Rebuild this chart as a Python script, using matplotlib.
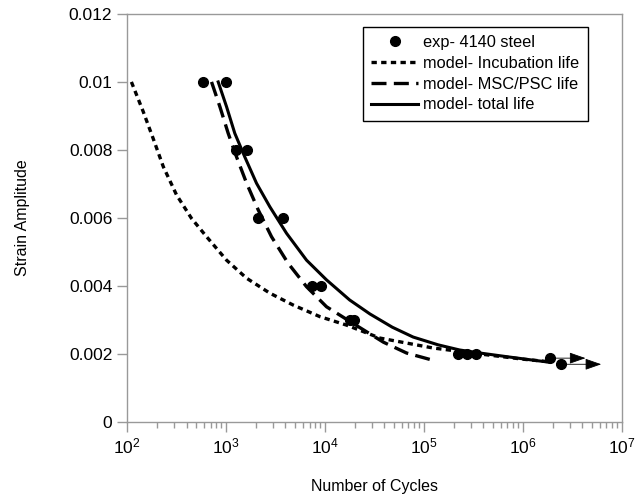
import matplotlib.pyplot as plt
import numpy as np

plt.rcParams['font.family'] = ['Liberation Sans', 'DejaVu Sans']

# experimental points
exp_N = [587, 1000, 1260, 1620, 2100, 3770, 7400, 9100, 17800, 19500,
         2.2e5, 2.7e5, 3.4e5, 1.9e6, 2.45e6]
exp_strain = [0.01, 0.01, 0.008, 0.008, 0.006, 0.006, 0.004, 0.004, 0.003, 0.003,
              0.002, 0.002, 0.002, 0.00188, 0.0017]

# run-outs (arrows)
runout_start = [1.9e6, 2.45e6]
runout_end = [4.3e6, 6.2e6]
runout_strain = [0.00188, 0.0017]

# model curves
inc_N = [111, 146, 184, 233, 317, 449, 638, 1016, 1618, 2782, 4790, 8910,
         16600, 36000, 1.23e5, 3.5e5, 1e6, 1.9e6]
inc_strain = [0.01, 0.00913, 0.00834, 0.00751, 0.00668, 0.00599, 0.00545, 0.00476,
              0.00423, 0.00379, 0.00344, 0.0031, 0.00285, 0.00247, 0.00218,
              0.00201, 0.00185, 0.00177]

msc_N = [716, 870, 1055, 1280, 1620, 2120, 2890, 4250, 6530, 10400, 19300,
         39000, 67000, 1.3e5]
msc_strain = [0.01, 0.00927, 0.00849, 0.0078, 0.00702, 0.00624, 0.00545, 0.00467,
              0.00398, 0.00339, 0.0029, 0.00235, 0.00203, 0.0018]

tot_N = [836, 1016, 1230, 1550, 2040, 2780, 4100, 6530, 10400, 17800, 28500,
         48000, 78000, 1.4e5, 2.3e5, 3.7e5, 7e5, 1.2e6, 1.86e6]
tot_strain = [0.01, 0.00927, 0.00849, 0.0078, 0.00702, 0.00633, 0.00555, 0.00476,
              0.00418, 0.00359, 0.00318, 0.00279, 0.0025, 0.00227, 0.00212,
              0.00203, 0.00192, 0.00183, 0.00176]

fig = plt.figure(figsize=(6.41, 4.96), dpi=100)
ax = fig.add_axes([0.198, 0.149, 0.772, 0.823])

for x0, x1, y in zip(runout_start, runout_end, runout_strain):
    ax.annotate('', xy=(x1, y), xytext=(x0, y),
                arrowprops=dict(arrowstyle='-|>,head_length=1.0,head_width=0.35',
                                color='black', lw=0.6, shrinkA=0, shrinkB=0))

ax.plot(inc_N, inc_strain, color='black', lw=2.4, dashes=(1.6, 1.3),
        label='model- Incubation life')
ax.plot(msc_N, msc_strain, color='black', lw=2.4, dashes=(4.5, 2.2),
        label='model- MSC/PSC life')
ax.plot(tot_N, tot_strain, color='black', lw=2.2, label='model- total life')
ax.plot(exp_N, exp_strain, 'o', color='black', ms=7, label='exp- 4140 steel')

ax.set_xscale('log')
ax.set_xlim(1e2, 1e7)
ax.set_ylim(0, 0.012)
ax.set_yticks([0, 0.002, 0.004, 0.006, 0.008, 0.01, 0.012])
ax.set_yticklabels(['0', '0.002', '0.004', '0.006', '0.008', '0.01', '0.012'])

for s in ax.spines.values():
    s.set_color('#999999')
    s.set_linewidth(1)
ax.tick_params(axis='both', which='both', color='#999999', direction='out',
               labelsize=12.5, top=False, right=False)
ax.tick_params(which='major', length=7, width=1)
ax.tick_params(which='minor', length=4, width=1)

ax.set_xlabel('Number of Cycles', fontsize=11.5, labelpad=16)
ax.set_ylabel('Strain Amplitude', fontsize=11.5, labelpad=28)

handles, labels = ax.get_legend_handles_labels()
order = [3, 0, 1, 2]
leg = ax.legend([handles[i] for i in order], [labels[i] for i in order],
                loc='upper right', bbox_to_anchor=(0.931, 0.968), fontsize=11.8,
                fancybox=False, framealpha=1, edgecolor='black',
                handlelength=2.9, handletextpad=0.3, borderpad=0.5,
                labelspacing=0.35, borderaxespad=0)
leg.get_frame().set_linewidth(1)

fig.savefig('out.png', dpi=100)
